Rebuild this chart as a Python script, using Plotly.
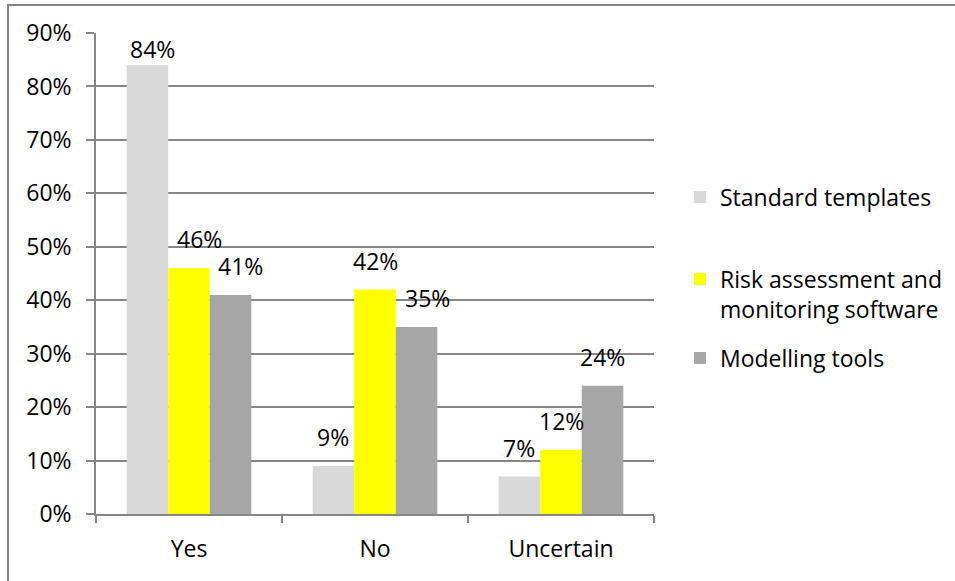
import plotly.graph_objects as go

# Survey answers per tool type
categories = ["Yes", "No", "Uncertain"]
series_names = [
    "Standard templates",
    "Risk assessment and<br>monitoring software",
    "Modelling tools",
]
standard_templates = [0.84, 0.09, 0.07]
risk_software = [0.46, 0.42, 0.12]
modelling_tools = [0.41, 0.35, 0.24]
y_ticks = [0.0, 0.1, 0.2, 0.3, 0.4, 0.5, 0.6, 0.7, 0.8, 0.9]

series_values = [standard_templates, risk_software, modelling_tools]
colors = ["#D9D9D9", "#FFFF00", "#A6A6A6"]

# Canvas and plot-area geometry (pixels)
W, H = 955, 581
L, R, T, B = 96, 654, 33, 514
BARGAP = 0.33
FONT = "Open Sans"
FS = 23
AXIS_GREY = "#868686"


def px_x(px):
    return (px - L) / (R - L)


def px_y(py):
    return (B - py) / (B - T)


fig = go.Figure()
legend_ids = ["legend", "legend2", "legend3"]
for name, vals, col, lg in zip(series_names, series_values, colors, legend_ids):
    fig.add_trace(go.Bar(
        x=categories, y=vals, name=name, legend=lg,
        marker=dict(color=col, line=dict(width=0)),
        hoverinfo="x+y",
    ))

# Value labels above each bar, with small nudges where labels are crowded
label_nudge = {
    (0, 0): (5, -13),
    (1, 0): (10, 0),
    (2, 0): (10, 0),
    (2, 1): (11, 0),
}
bar_w = (1 - BARGAP) / len(series_values)
annotations = []
for j, vals in enumerate(series_values):
    for i, v in enumerate(vals):
        dx, dy = label_nudge.get((j, i), (0, 0))
        annotations.append(dict(
            x=i + (j - 1) * bar_w, y=v, xref="x", yref="y",
            text=f"{round(v * 100)}%", showarrow=False,
            yanchor="bottom", xanchor="center",
            xshift=dx, yshift=11 + dy,
            font=dict(family=FONT, size=FS, color="#000000"),
        ))

legend_style = dict(
    font=dict(family=FONT, size=FS, color="#000000"),
    bgcolor="rgba(0,0,0,0)", borderwidth=0,
    xanchor="left", yanchor="middle", itemclick=False,
)

fig.update_layout(
    width=W, height=H,
    margin=dict(l=L, r=W - R, t=T, b=H - B, pad=0, autoexpand=False),
    paper_bgcolor="#FFFFFF", plot_bgcolor="#FFFFFF",
    barmode="group", bargap=BARGAP, bargroupgap=0,
    font=dict(family=FONT, size=FS, color="#000000"),
    showlegend=True,
    legend=dict(x=px_x(680), y=px_y(197), **legend_style),
    legend2=dict(x=px_x(680), y=px_y(294), valign="top", **legend_style),
    legend3=dict(x=px_x(680), y=px_y(358), **legend_style),
    annotations=annotations,
    xaxis=dict(
        type="category", showgrid=False,
        showline=True, linecolor=AXIS_GREY, linewidth=1.5,
        ticks="outside", tickson="boundaries", ticklen=7,
        tickcolor=AXIS_GREY, tickwidth=1.5,
        ticklabelstandoff=14,
        tickfont=dict(family=FONT, size=FS, color="#000000"),
        fixedrange=True,
    ),
    yaxis=dict(
        range=[0, 0.9], tickvals=y_ticks, tickformat=".0%",
        showgrid=True, gridcolor=AXIS_GREY, gridwidth=1.5,
        showline=True, linecolor=AXIS_GREY, linewidth=1.5,
        ticks="outside", ticklen=8, tickcolor=AXIS_GREY, tickwidth=1.5,
        ticklabelstandoff=10, zeroline=False,
        tickfont=dict(family=FONT, size=FS, color="#000000"),
        fixedrange=True,
    ),
    shapes=[dict(
        type="rect", xref="paper", yref="paper",
        x0=px_x(8), x1=px_x(W + 10), y0=px_y(H + 10), y1=px_y(5),
        line=dict(color=AXIS_GREY, width=2), fillcolor="rgba(0,0,0,0)",
        layer="below",
    )],
)

fig.write_html("out.html")
